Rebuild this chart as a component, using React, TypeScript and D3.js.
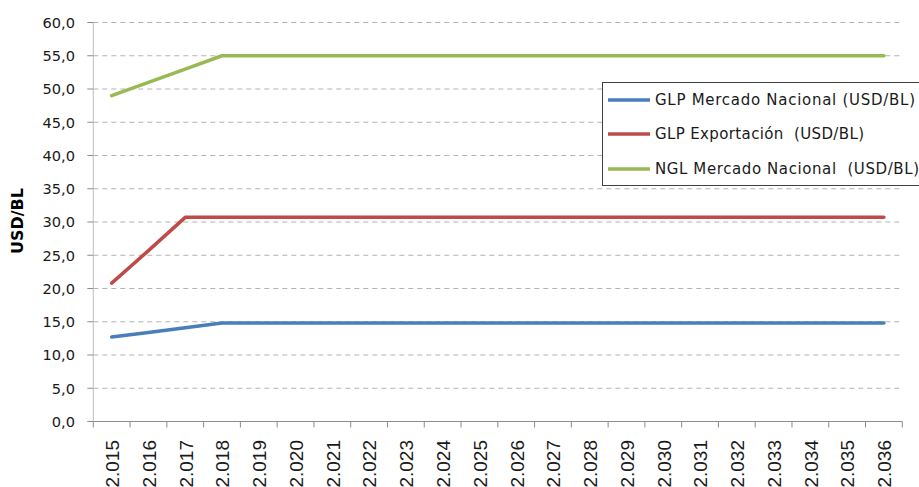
import React from "react";
import * as d3 from "d3";

const years = ["2.015","2.016","2.017","2.018","2.019","2.020","2.021","2.022","2.023","2.024","2.025","2.026","2.027","2.028","2.029","2.030","2.031","2.032","2.033","2.034","2.035","2.036"];
const glpNacional = [12.7,13.4,14.1,14.8,14.8,14.8,14.8,14.8,14.8,14.8,14.8,14.8,14.8,14.8,14.8,14.8,14.8,14.8,14.8,14.8,14.8,14.8];
const glpExport = [20.8,25.7,30.7,30.7,30.7,30.7,30.7,30.7,30.7,30.7,30.7,30.7,30.7,30.7,30.7,30.7,30.7,30.7,30.7,30.7,30.7,30.7];
const nglNacional = [49,51,53,55,55,55,55,55,55,55,55,55,55,55,55,55,55,55,55,55,55,55];
const yTicks = [0,5,10,15,20,25,30,35,40,45,50,55,60];
const seriesNames = ["GLP Mercado Nacional (USD/BL)", "GLP Exportación  (USD/BL)", "NGL Mercado Nacional  (USD/BL)"];
const colors = ["#4A7EBB", "#BE4B48", "#98B954"];

export default function App() {
  const W = 919, H = 487;
  const x0 = 93.3, x1 = 902.3, yTop = 22.5, yBot = 421.5;
  const x = d3.scaleBand<string>().domain(years).range([x0, x1]);
  const y = d3.scaleLinear().domain([0, 60]).range([yBot, yTop]);
  const line = d3.line<number>().x((_, i) => (x(years[i]) as number) + x.bandwidth() / 2).y(d => y(d));
  const series = [glpNacional, glpExport, nglNacional];
  const font = "'DejaVu Sans', sans-serif";
  const textColor = "#1a1a1a";
  const legendY = [100, 134, 169];
  const legendLen = [260, 209, 264];
  return (
    <div style={{ position: "fixed", left: 0, top: 0 }}>
      <svg width={W} height={H} style={{ display: "block", background: "#fff" }}>
        {yTicks.filter(t => t > 0).map(t => (
          <line key={t} x1={x0} x2={x1} y1={y(t)} y2={y(t)} stroke="#b3b3b3" strokeWidth={1} strokeDasharray="5,4" />
        ))}
        <line x1={x0} x2={x0} y1={yTop} y2={yBot} stroke="#bfbfbf" strokeWidth={1} />
        <line x1={x0} x2={x1} y1={yBot} y2={yBot} stroke="#8c8c8c" strokeWidth={1} />
        {yTicks.map(t => (
          <g key={t}>
            <line x1={x0 - 6} x2={x0} y1={y(t)} y2={y(t)} stroke="#8c8c8c" />
            <text x={75} y={y(t)} dy="0.36em" textAnchor="end" fontFamily={font} fontSize={14.6} fill={textColor}>
              {t.toFixed(1).replace(".", ",")}
            </text>
          </g>
        ))}
        {years.concat(["end"]).map((yr, i) => {
          const xx = x0 + i * x.step();
          return <line key={yr} x1={xx} x2={xx} y1={yBot} y2={yBot + 6} stroke="#8c8c8c" />;
        })}
        {years.map(yr => {
          const cx = (x(yr) as number) + x.bandwidth() / 2;
          return (
            <text key={yr} transform={`translate(${cx + 0.5},440) rotate(-90)`} dy="0.36em" textAnchor="end" fontFamily="Arial, 'Liberation Sans', sans-serif" fontSize={19} fill={textColor}>
              {yr}
            </text>
          );
        })}
        <text transform="translate(18,221) rotate(-90)" textAnchor="middle" dy="0.36em" fontFamily={font} fontSize={15} fontWeight="bold" fill="#000" textLength={66} lengthAdjust="spacingAndGlyphs">USD/BL</text>
        {series.map((s, i) => (
          <path key={i} d={line(s) as string} fill="none" stroke={colors[i]} strokeWidth={3.5} strokeLinejoin="round" strokeLinecap="round" />
        ))}
        <rect x={602.5} y={82.5} width={330} height={103} fill="#fff" stroke="#404040" strokeWidth={1} />
        {seriesNames.map((n, i) => {
          const ly = legendY[i];
          return (
            <g key={n}>
              <line x1={608} x2={650} y1={ly} y2={ly} stroke={colors[i]} strokeWidth={3.5} />
              <text x={655} y={ly} dy="0.36em" fontFamily={font} fontSize={15} fill={textColor} xmlSpace="preserve" style={{ whiteSpace: "pre" }} textLength={legendLen[i]} lengthAdjust="spacing">{n}</text>
            </g>
          );
        })}
      </svg>
    </div>
  );
}
